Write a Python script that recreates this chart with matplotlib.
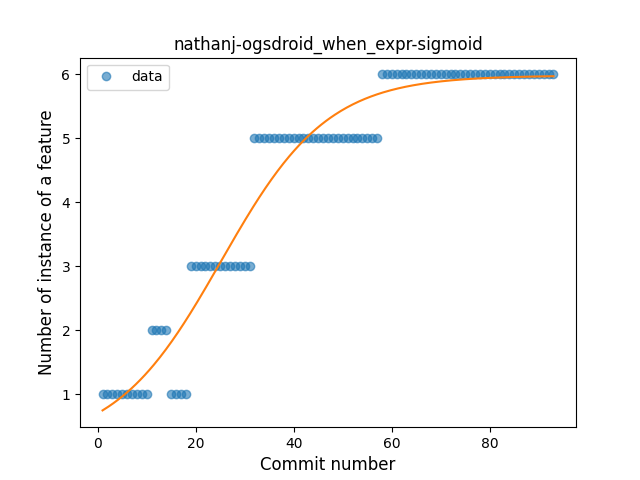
import numpy as np
import matplotlib
matplotlib.use("Agg")
import matplotlib.pyplot as plt

# commit numbers and feature counts
commits = np.arange(1, 94)
counts = np.array([1] * 10 + [2] * 4 + [1] * 4 + [3] * 13 + [5] * 26 + [6] * 36)

# sigmoid fit: grid over k, x0, linear least squares for offset and height
best = None
for k in np.linspace(0.05, 0.3, 126):
    for x0 in np.linspace(15, 40, 251):
        s = 1 / (1 + np.exp(-k * (commits - x0)))
        A = np.column_stack([np.ones_like(s), s])
        coef, *_ = np.linalg.lstsq(A, counts, rcond=None)
        err = np.sum((A @ coef - counts) ** 2)
        if best is None or err < best[0]:
            best = (err, k, x0, coef)
_, k, x0, coef = best
xs = np.linspace(1, 93, 300)
ys = coef[0] + coef[1] / (1 + np.exp(-k * (xs - x0)))

fig, ax = plt.subplots(figsize=(6.4, 4.8), dpi=100)
ax.plot(commits, counts, 'o', alpha=0.6, label='data')
ax.plot(xs, ys, '-')
ax.set_title('nathanj-ogsdroid_when_expr-sigmoid')
ax.set_xlabel('Commit number', fontsize=12)
ax.set_ylabel('Number of instance of a feature', fontsize=12)
ax.legend(loc='upper left')
fig.savefig('out.png')
